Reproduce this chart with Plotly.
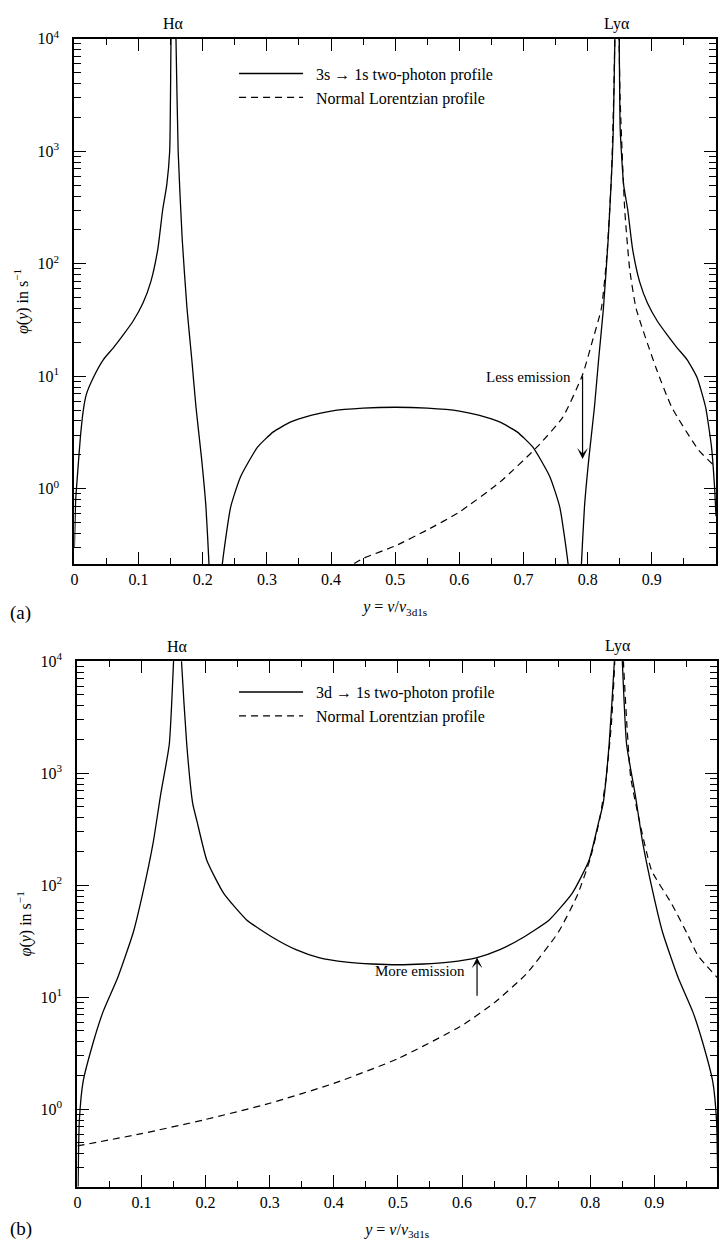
import numpy as np
import plotly.graph_objects as go

# ---------------- data ----------------
# Panel (a): 3s -> 1s two-photon profile (None = curve drops below axis)
a_two_x = [0.0, 0.002, 0.0046, 0.0093, 0.0139, 0.0186, 0.0294, 0.0449, 0.0603, 0.0758, 0.0913,
           0.1067, 0.119, 0.130, 0.1377, 0.1439, 0.1485, 0.1506, 0.1545,
           0.1583, 0.1617, 0.168, 0.1755, 0.183, 0.1895, 0.198, 0.205, 0.210, 0.212,
           None,
           0.228, 0.230, 0.2436, 0.259, 0.2854, 0.31, 0.3364, 0.37, 0.40, 0.45, 0.50, 0.55, 0.60,
           0.63, 0.6636, 0.69, 0.7146, 0.741, 0.7564, 0.770, 0.772,
           None,
           0.788, 0.790, 0.795, 0.802, 0.8105, 0.817, 0.8245, 0.832, 0.8383, 0.8399,
           0.8424, 0.846, 0.8491, 0.8507, 0.8561, 0.8623, 0.870, 0.881, 0.8933, 0.9087,
           0.9242, 0.9397, 0.9551, 0.9706, 0.9838, 0.993, 0.9977, 1.0]
a_two_v = [0.3, 0.8, 1.28, 2.87, 5.0, 6.9, 9.7, 14, 17.8, 23.2, 30.8,
           44.5, 69, 135, 305, 500, 1000, 10000, 100000,
           10000, 1000, 166, 40, 14, 5.3, 1.9, 0.69, 0.2, 0.1,
           None,
           0.1, 0.2, 0.69, 1.28, 2.34, 3.2, 3.9, 4.5, 4.9, 5.2, 5.3, 5.2, 4.9,
           4.5, 3.9, 3.2, 2.34, 1.28, 0.69, 0.2, 0.1,
           None,
           0.1, 0.2, 0.69, 1.9, 5.3, 14, 40, 166, 841, 1550,
           10000, 100000, 10000, 1550, 500, 305, 135, 69, 44.5, 30.8,
           23.2, 17.8, 14, 9.7, 5.3, 2.34, 1.04, 0.57]

# Panel (a): normal Lorentzian profile
a_lor_x = [0.42, 0.45, 0.50, 0.55, 0.60, 0.6636, 0.7208, 0.761, 0.792, 0.8074, 0.8213,
           0.830, 0.837, 0.8405, 0.846, 0.8505, 0.8577, 0.8654, 0.8755, 0.9064, 0.931,
           0.973, 0.996, 1.0]
a_lor_v = [0.19, 0.24, 0.31, 0.43, 0.62, 1.15, 2.34, 4.3, 10.3, 20.6, 40,
           120, 600, 3000, 100000, 3000, 305, 90, 40, 11.9, 5.3,
           2.2, 1.63, 1.58]

# Panel (b): 3d -> 1s two-photon profile
b_two_x = [0.0005, 0.003, 0.009, 0.025, 0.040, 0.063, 0.087, 0.102, 0.118, 0.130,
           0.1433, 0.150, 0.156, 0.1624, 0.1706, 0.180, 0.1864, 0.202, 0.228, 0.264,
           0.3055, 0.341, 0.3766, 0.42, 0.46, 0.50, 0.54, 0.58, 0.6234, 0.659,
           0.6945, 0.736, 0.772, 0.798, 0.8136, 0.820, 0.8294, 0.8376, 0.844, 0.850,
           0.8567, 0.870, 0.882, 0.898, 0.913, 0.937, 0.960, 0.975, 0.991, 0.997, 0.9995]
b_two_v = [0.1, 0.78, 1.77, 4.0, 7.4, 15, 37.6, 85, 236, 650,
           1806, 10000, 100000, 10000, 1806, 532, 376, 166, 85, 49,
           34, 26.6, 22.6, 20.6, 19.8, 19.5, 19.8, 20.6, 22.6, 26.6,
           34, 49, 85, 166, 376, 532, 1806, 10000, 100000, 10000,
           1806, 650, 236, 85, 37.6, 15, 7.4, 4.0, 1.77, 0.78, 0.1]

# Panel (b): normal Lorentzian profile
b_lor_x = [0.0, 0.1, 0.2, 0.3, 0.4, 0.5, 0.6, 0.65, 0.7, 0.75, 0.78, 0.80, 0.815, 0.825,
           0.833, 0.838, 0.841, 0.845, 0.849, 0.852, 0.857, 0.863, 0.871, 0.8956, 0.9265,
           0.9528, 0.968, 0.998]
b_lor_v = [0.47, 0.605, 0.81, 1.13, 1.70, 2.83, 5.6, 8.9, 16.1, 37.9, 81.8, 173, 398, 927,
           2770, 9300, 37000, 100000, 30000, 9300, 2770, 927, 532, 136, 69,
           35.4, 23.5, 15.0]

# Ticks
x_tick_vals = [0, 0.1, 0.2, 0.3, 0.4, 0.5, 0.6, 0.7, 0.8, 0.9, 1.0]
x_tick_text = ["0", "0.1", "0.2", "0.3", "0.4", "0.5", "0.6", "0.7", "0.8", "0.9", "1"]
y_tick_vals = [1, 10, 100, 1000, 10000]
y_tick_text = ["10<sup>0</sup>", "10<sup>1</sup>", "10<sup>2</sup>", "10<sup>3</sup>", "10<sup>4</sup>"]
y_minor_vals = [m * d for d in [0.1, 1, 10, 100, 1000] for m in range(2, 10)]
x_minor_vals = [0.05, 0.15, 0.25, 0.35, 0.45, 0.55, 0.65, 0.75, 0.85, 0.95]

# annotation positions (data units)
a_arrow_x, a_arrow_tail, a_arrow_head = 0.792, 10.3, 1.84
b_arrow_x, b_arrow_tail, b_arrow_head = 0.6234, 10.0, 22.6
line_names_a = ["\u20023s \u2192 1s two-photon profile", "\u2002Normal Lorentzian profile"]
line_names_b = ["\u20023d \u2192 1s two-photon profile", "\u2002Normal Lorentzian profile"]

# ---------------- figure ----------------
W, H = 719, 1245
FONT = "Times New Roman, Liberation Serif, Times, serif"
fig = go.Figure()

SM = 0.5
fig.add_trace(go.Scatter(x=a_two_x, y=a_two_v, mode="lines", name=line_names_a[0],
                         line=dict(color="black", width=1.3, shape="spline", smoothing=SM),
                         xaxis="x", yaxis="y", legend="legend", connectgaps=False))
fig.add_trace(go.Scatter(x=a_lor_x, y=a_lor_v, mode="lines", name=line_names_a[1],
                         line=dict(color="black", width=1.2, dash="7px,5px", shape="spline", smoothing=SM),
                         xaxis="x", yaxis="y", legend="legend"))
fig.add_trace(go.Scatter(x=b_two_x, y=b_two_v, mode="lines", name=line_names_b[0],
                         line=dict(color="black", width=1.3, shape="spline", smoothing=SM),
                         xaxis="x2", yaxis="y2", legend="legend2"))
fig.add_trace(go.Scatter(x=b_lor_x, y=b_lor_v, mode="lines", name=line_names_b[1],
                         line=dict(color="black", width=1.2, dash="7px,5px", shape="spline", smoothing=SM),
                         xaxis="x2", yaxis="y2", legend="legend2"))


def px_x(p):
    return p / W


def px_y(p):
    return 1 - p / H


tickfont = dict(family=FONT, size=16, color="black")
common_x = dict(tickmode="array", tickvals=x_tick_vals, ticktext=x_tick_text,
                ticks="inside", ticklen=12, tickwidth=1.3, tickcolor="black",
                showline=True, linewidth=2, linecolor="black", mirror="allticks",
                showgrid=False, zeroline=False, tickfont=tickfont,
                minor=dict(tickmode="array", tickvals=x_minor_vals, ticks="inside",
                           ticklen=6, tickwidth=1.2, tickcolor="black", showgrid=False))
common_y = dict(type="log", tickmode="array", tickvals=y_tick_vals, ticktext=y_tick_text,
                ticks="inside", ticklen=12, tickwidth=1.3, tickcolor="black",
                showline=True, linewidth=2, linecolor="black", mirror="allticks",
                showgrid=False, zeroline=False, tickfont=tickfont, ticklabelstandoff=10,
                minor=dict(tickmode="array", tickvals=y_minor_vals, ticks="inside",
                           ticklen=7, tickwidth=1.2, tickcolor="black", showgrid=False))

xtitle = "<i>y</i> = <i>\u03bd</i>/<i>\u03bd</i><sub>3d1s</sub>"
ytitle = "<i>\u03c6</i>(<i>y</i>) in s<sup>\u22121</sup>"
titlefont = dict(family=FONT, size=16, color="black")
legfont = dict(family=FONT, size=16, color="black")

fig.update_layout(
    width=W, height=H, margin=dict(l=0, r=0, t=0, b=0),
    paper_bgcolor="white", plot_bgcolor="white",
    font=dict(family=FONT, size=16, color="black"),
    showlegend=True,
    xaxis=dict(common_x, domain=[px_x(71), px_x(718)], range=[0, 1], anchor="y",
               title=dict(text=xtitle, font=titlefont, standoff=14)),
    yaxis=dict(common_y, domain=[px_y(558), px_y(28)], range=[-0.67, 4], anchor="x",
               title=dict(text=ytitle, font=titlefont, standoff=5)),
    xaxis2=dict(common_x, domain=[px_x(74), 1.0], range=[0, 645 / 646.5], anchor="y2",
                title=dict(text=xtitle, font=titlefont, standoff=14)),
    yaxis2=dict(common_y, domain=[px_y(1186), px_y(656)], range=[-0.69, 4], anchor="x2",
                title=dict(text=ytitle, font=titlefont, standoff=5)),
    legend=dict(x=px_x(232), y=px_y(46), xanchor="left", yanchor="top",
                bgcolor="rgba(0,0,0,0)", borderwidth=0, itemwidth=64,
                font=legfont, tracegroupgap=0),
    legend2=dict(x=px_x(232), y=px_y(670), xanchor="left", yanchor="top",
                 bgcolor="rgba(0,0,0,0)", borderwidth=0, itemwidth=64,
                 font=legfont, tracegroupgap=0),
)

lab = dict(family=FONT, size=16, color="black")
ann = []
ann.append(dict(x=0.155, y=px_y(13), xref="x", yref="paper", text="H\u03b1", showarrow=False,
                font=lab, xanchor="center", yanchor="middle"))
ann.append(dict(x=0.846, y=px_y(13), xref="x", yref="paper", text="Ly\u03b1", showarrow=False,
                font=lab, xanchor="center", yanchor="middle"))
ann.append(dict(x=0.156, y=px_y(641), xref="x2", yref="paper", text="H\u03b1", showarrow=False,
                font=lab, xanchor="center", yanchor="middle"))
ann.append(dict(x=0.844, y=px_y(641), xref="x2", yref="paper", text="Ly\u03b1", showarrow=False,
                font=lab, xanchor="center", yanchor="middle"))
# panel tags
ann.append(dict(x=px_x(4), y=px_y(607), xref="paper", yref="paper", text="(a)", showarrow=False,
                font=dict(family=FONT, size=19, color="black"), xanchor="left", yanchor="middle"))
ann.append(dict(x=px_x(4), y=px_y(1229), xref="paper", yref="paper", text="(b)", showarrow=False,
                font=dict(family=FONT, size=19, color="black"), xanchor="left", yanchor="middle"))
# arrows
ann.append(dict(x=a_arrow_x, y=np.log10(a_arrow_head), ax=a_arrow_x, ay=np.log10(a_arrow_tail),
                xref="x", yref="y", axref="x", ayref="y", text="", showarrow=True,
                arrowhead=3, arrowsize=1.5, arrowwidth=1.2, arrowcolor="black"))
ann.append(dict(x=a_arrow_x - 0.015, y=np.log10(a_arrow_tail) - 0.02, xref="x", yref="y",
                text="Less emission", showarrow=False, xanchor="right", yanchor="middle",
                font=dict(family=FONT, size=15, color="black")))
ann.append(dict(x=b_arrow_x, y=np.log10(b_arrow_head), ax=b_arrow_x, ay=np.log10(b_arrow_tail),
                xref="x2", yref="y2", axref="x2", ayref="y2", text="", showarrow=True,
                arrowhead=3, arrowsize=1.5, arrowwidth=1.2, arrowcolor="black"))
ann.append(dict(x=b_arrow_x - 0.016, y=1.23, xref="x2", yref="y2",
                text="More emission", showarrow=False, xanchor="right", yanchor="middle",
                font=dict(family=FONT, size=15, color="black")))
fig.update_layout(annotations=ann)

fig.write_html("out.html")
